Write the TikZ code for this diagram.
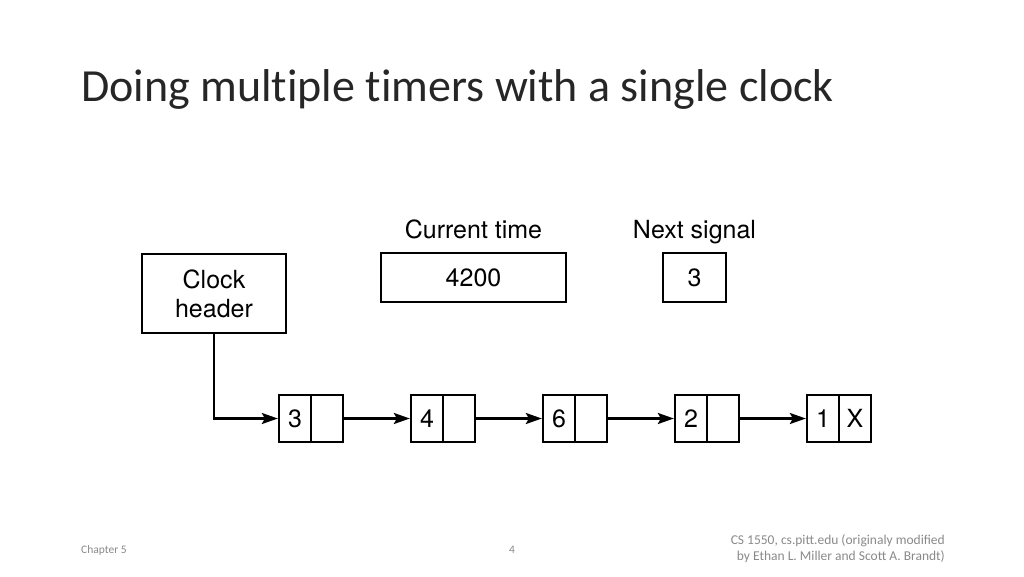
\documentclass[tikz,border=0pt]{standalone}
\usepackage{fontspec}
\setmainfont{Carlito}
\newfontfamily\titlefont[Ligatures=NoCommon]{Carlito}
\newfontfamily\helv{TeX Gyre Heros}
\usepackage{tikz}
\usetikzlibrary{positioning,arrows.meta}

\definecolor{footgray}{RGB}{137,137,137}
\definecolor{titlegray}{RGB}{38,38,38}

\tikzset{
  box/.style={draw, line width=2.3pt, minimum height=47pt, inner sep=0pt, font=\helv\fontsize{25}{29}\selectfont},
  cell/.style={box, minimum width=32pt},
  lbl/.style={anchor=base, inner sep=0pt, font=\helv\fontsize{25}{29}\selectfont},
  footer/.style={text=footgray, inner sep=0pt, font=\fontsize{11.5}{16}\selectfont}
}

\begin{document}
\begin{tikzpicture}[x=1pt,y=-1pt,node distance=32pt,on grid,>={Stealth[length=16pt,width=11pt,inset=3pt]},line width=2.3pt]
  \useasboundingbox (0,0) rectangle (1024,576);
  % title
  \node[anchor=base west, inner sep=0pt, text=titlegray, font=\titlefont\fontsize{46}{52}\selectfont] (title) at (80,101) {Doing multiple timers with a single clock};

  % clock header, current time, next signal
  \node[box, minimum width=144pt, minimum height=79pt, align=center] (clk) at (214,293.5) {Clock\\header};
  \node[box, minimum width=185pt, minimum height=49pt] (cur) at (473.5,277.5) {4200};
  \node[box, minimum width=63pt, minimum height=49pt] (nxt) at (694.5,277.5) {3};
  \node[lbl] (curlbl) at (473.5,238) {Current time};
  \node[lbl] (nxtlbl) at (694.5,238) {Next signal};

  % timer list
  \node[cell] (k1) at (295,418.5) {3};
  \node[cell] (p1) [right=of k1] {};
  \node[cell] (k2) [right=132pt of k1] {4};
  \node[cell] (p2) [right=of k2] {};
  \node[cell] (k3) [right=132pt of k2] {6};
  \node[cell] (p3) [right=of k3] {};
  \node[cell] (k4) [right=132pt of k3] {2};
  \node[cell] (p4) [right=of k4] {};
  \node[cell] (k5) [right=132pt of k4] {1};
  \node[cell] (p5) [right=of k5] {X};

  \draw[->] (clk) |- (k1);
  \path[->]
    (p1) edge (k2)
    (p2) edge (k3)
    (p3) edge (k4)
    (p4) edge (k5);

  % footer
  \node[footer, anchor=west] (chap) at (80,550) {Chapter 5};
  \node[footer] (page) at (512,550) {4};
  \node[footer, anchor=east, align=right, font=\fontsize{13.5}{16}\selectfont] (cred) at (946,549) {CS 1550, cs.pitt.edu (originaly modified\\by Ethan L. Miller and Scott A. Brandt)};
\end{tikzpicture}
\end{document}
